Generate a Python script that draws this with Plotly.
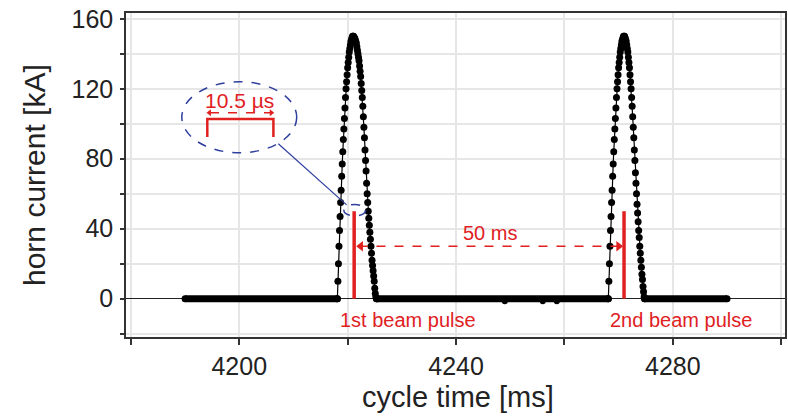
import plotly.graph_objects as go

# ===== DATA =====
# flat part of the horn current between pulses [ms]
base_start = [4190.0, 4225.4, 4274.8]
base_end = [4218.1, 4268.1, 4290.0]

# small glitches just under the baseline
glitch_t = [4249.0, 4256.0, 4258.6]
glitch_kA = [-1.5, -1.5, -1.5]

# first horn pulse
pulse1_t = [
    4218.1, 4218.2, 4218.3, 4218.4, 4218.5, 4218.6, 4218.7, 4218.8, 4218.9, 4219.0,
    4219.1, 4219.2, 4219.3, 4219.4, 4219.5, 4219.6, 4219.7, 4219.8, 4219.9, 4220.0,
    4220.1, 4220.2, 4220.3, 4220.4, 4220.5, 4220.6, 4220.7, 4220.8, 4220.9, 4221.0,
    4221.1, 4221.2, 4221.3, 4221.4, 4221.5, 4221.6, 4221.7, 4221.8, 4221.9, 4222.0,
    4222.1, 4222.2, 4222.3, 4222.4, 4222.5, 4222.6, 4222.7, 4222.8, 4222.9, 4223.0,
    4223.1, 4223.2, 4223.3, 4223.4, 4223.5, 4223.6, 4223.7, 4223.8, 4223.9, 4224.0,
    4224.1, 4224.2, 4224.3, 4224.4, 4224.5, 4224.6, 4224.7, 4224.8, 4224.9, 4225.0,
    4225.1, 4225.2, 4225.3, 4225.4,
]
pulse1_kA = [
    0, 10, 20, 30, 39, 47, 55, 62, 70, 77,
    84, 91, 97, 103, 109, 115, 120, 124, 128, 132,
    135, 138, 141, 143, 145, 147, 148, 149, 150, 150,
    150, 149, 149, 148, 147, 146, 144, 142, 140, 138,
    136, 133, 130, 127, 123, 119, 115, 110, 104, 98,
    92, 85, 79, 73, 66, 60, 55, 50, 46, 42,
    38, 34, 30, 26, 22, 19, 16, 13, 10, 6,
    3, 1, 0, 0,
]

# second horn pulse
pulse2_t = [
    4268.1, 4268.2, 4268.3, 4268.4, 4268.5, 4268.6, 4268.7, 4268.8, 4268.9, 4269.0,
    4269.1, 4269.2, 4269.3, 4269.4, 4269.5, 4269.6, 4269.7, 4269.8, 4269.9, 4270.0,
    4270.1, 4270.2, 4270.3, 4270.4, 4270.5, 4270.6, 4270.7, 4270.8, 4270.9, 4271.0,
    4271.1, 4271.2, 4271.3, 4271.4, 4271.5, 4271.6, 4271.7, 4271.8, 4271.9, 4272.0,
    4272.1, 4272.2, 4272.3, 4272.4, 4272.5, 4272.6, 4272.7, 4272.8, 4272.9, 4273.0,
    4273.1, 4273.2, 4273.3, 4273.4, 4273.5, 4273.6, 4273.7, 4273.8, 4273.9, 4274.0,
    4274.1, 4274.2, 4274.3, 4274.4, 4274.5, 4274.6, 4274.7, 4274.8,
]
pulse2_kA = [
    0, 10, 20, 30, 39, 47, 55, 62, 70, 77,
    84, 91, 97, 103, 109, 115, 120, 124, 128, 132,
    135, 138, 141, 143, 145, 147, 148, 149, 150, 150,
    150, 149, 148, 147, 145, 143, 141, 138, 135, 132,
    128, 124, 120, 115, 110, 104, 98, 92, 85, 79,
    72, 66, 60, 54, 49, 44, 39, 35, 30, 26,
    22, 18, 14, 11, 7, 4, 1, 0,
]

# beam pulses (time, marker height)
beam_t = [4221.2, 4271.0]
beam_h = [50, 50]
beam_labels = ["1st beam pulse", "2nd beam pulse"]
label_t = [4231.2, 4281.5]

RED = "#e0211f"
BLUE = "#2e3f9e"
FONT = "Arial, Liberation Sans, sans-serif"

fig = go.Figure()

# baseline: dots are so dense they merge into a thick band
bx, by = [], []
for s, e in zip(base_start, base_end):
    bx += [s, e, None]
    by += [0, 0, None]
fig.add_trace(go.Scatter(
    x=bx, y=by, mode="lines+markers",
    line=dict(color="black", width=7),
    marker=dict(color="black", size=7),
    hoverinfo="skip",
))
fig.add_trace(go.Scatter(
    x=glitch_t, y=glitch_kA, mode="markers",
    marker=dict(color="black", size=6),
    hoverinfo="skip",
))

for t, kA in [(pulse1_t, pulse1_kA), (pulse2_t, pulse2_kA)]:
    fig.add_trace(go.Scatter(
        x=t, y=kA, mode="lines+markers",
        line=dict(color="black", width=1.2),
        marker=dict(color="black", size=7),
    ))

# red beam pulse markers
for t, h in zip(beam_t, beam_h):
    fig.add_shape(type="line", x0=t, x1=t, y0=0, y1=h,
                  line=dict(color=RED, width=3.5))

# 50 ms dashed arrow
fig.add_shape(type="line", x0=4222.0, x1=4270.2, y0=30, y1=30,
              line=dict(color=RED, width=1.5, dash="dash"))
fig.add_trace(go.Scatter(
    x=[4222.4, 4270.0], y=[30, 30], mode="markers",
    marker=dict(color=RED, size=9, symbol=["triangle-left", "triangle-right"]),
    hoverinfo="skip",
))
fig.add_annotation(x=4246.3, y=37.5, text="50 ms", showarrow=False,
                   font=dict(family=FONT, size=20, color=RED))

for t, lab in zip(label_t, beam_labels):
    fig.add_annotation(x=t, y=-12, text=lab, showarrow=False,
                       font=dict(family=FONT, size=20, color=RED))

# zoom ellipse with the 10.5 us bracket
fig.add_shape(type="circle", x0=4189.4, x1=4210.6, y0=83.4, y1=124,
              line=dict(color=BLUE, width=1.5, dash="dash"))
fig.add_shape(type="circle", x0=4219.3, x1=4223.3, y0=47.3, y1=53.9,
              line=dict(color=BLUE, width=1.5, dash="dash"))
fig.add_shape(type="line", x0=4207.2, x1=4219.8, y0=88.6, y1=53.6,
              line=dict(color=BLUE, width=1.2))
fig.add_shape(type="path",
              path="M 4194.1 92.4 L 4194.1 102.7 L 4206.3 102.7 L 4206.3 92.4",
              line=dict(color=RED, width=2.5))
fig.add_shape(type="line", x0=4194.6, x1=4205.8, y0=106.3, y1=106.3,
              line=dict(color=RED, width=1.5, dash="dash"))
fig.add_trace(go.Scatter(
    x=[4194.5, 4205.9], y=[106.3, 106.3], mode="markers",
    marker=dict(color=RED, size=6, symbol=["triangle-left", "triangle-right"]),
    hoverinfo="skip",
))
fig.add_annotation(x=4200.0, y=113.5, text="10.5 µs", showarrow=False,
                   font=dict(family=FONT, size=21, color=RED))

# axis titles placed as paper annotations so the plot box stays put
fig.add_annotation(xref="paper", yref="paper", x=0.504, y=-0.185,
                   xanchor="center", yanchor="middle",
                   text="cycle time [ms]", showarrow=False,
                   font=dict(family=FONT, size=29, color="#222"))
fig.add_annotation(xref="paper", yref="paper", x=-0.1396, y=0.5,
                   xanchor="center", yanchor="middle",
                   text="horn current [kA]", textangle=-90, showarrow=False,
                   font=dict(family=FONT, size=30, color="#222"))

fig.update_layout(
    width=788, height=417,
    margin=dict(l=126, r=3, t=13, b=80, autoexpand=False),
    plot_bgcolor="white",
    paper_bgcolor="white",
    showlegend=False,
    font=dict(family=FONT, color="#222"),
    xaxis=dict(
        range=[4179.1, 4300.7],
        tick0=4200, dtick=40,
        ticks="outside", ticklen=6, tickcolor="#333", tickwidth=1.5,
        minor=dict(dtick=20, ticks="outside", ticklen=6, tickcolor="#333",
                   showgrid=True, gridcolor="#e6e6e6", gridwidth=1.5),
        showgrid=True, gridcolor="#e6e6e6", gridwidth=1.5,
        showline=True, linecolor="#333", linewidth=1.5, mirror=True,
        zeroline=False,
        tickfont=dict(size=25),
        automargin=False,
    ),
    yaxis=dict(
        range=[-21.9, 163.3],
        tick0=0, dtick=40,
        ticks="outside", ticklen=4, tickcolor="#333", tickwidth=1.5,
        minor=dict(dtick=20, ticks="outside", ticklen=4, tickcolor="#333",
                   showgrid=True, gridcolor="#e6e6e6", gridwidth=1.5),
        showgrid=True, gridcolor="#e6e6e6", gridwidth=1.5,
        showline=True, linecolor="#333", linewidth=1.5, mirror=True,
        zeroline=True, zerolinecolor="#222", zerolinewidth=1,
        tickfont=dict(size=25),
        ticklabelstandoff=2,
        ticklabeloverflow="allow",
        automargin=False,
    ),
)

# drop the browser's default 8 px body margin so the figure fills the window
fig.write_html("out.html", config={"displayModeBar": False},
               post_script="document.body.style.margin = '0';")
